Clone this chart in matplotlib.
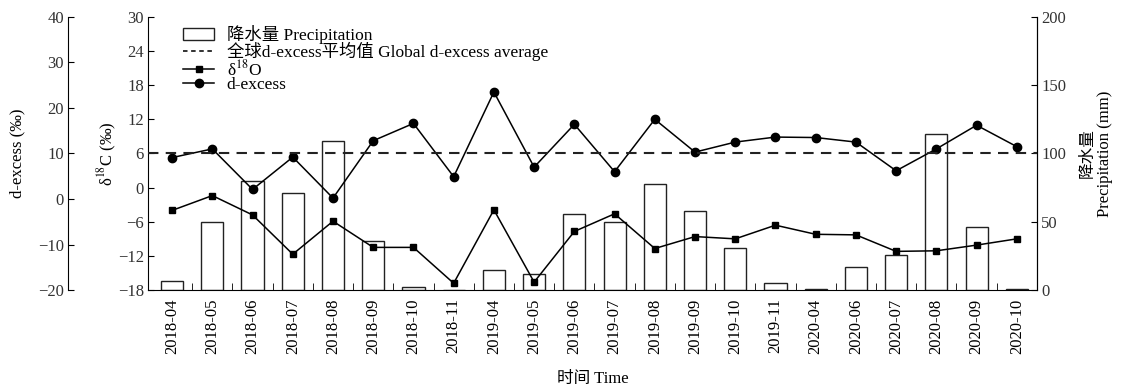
import matplotlib
matplotlib.use("Agg")
import matplotlib.pyplot as plt
import numpy as np
from matplotlib.patches import Rectangle
from matplotlib.lines import Line2D

plt.rcParams['font.family'] = ['Liberation Serif', 'Noto Sans CJK SC', 'DejaVu Sans']
plt.rcParams['mathtext.fontset'] = 'stix'

# 数据
months = ['2018-04', '2018-05', '2018-06', '2018-07', '2018-08', '2018-09', '2018-10', '2018-11',
          '2019-04', '2019-05', '2019-06', '2019-07', '2019-08', '2019-09', '2019-10', '2019-11',
          '2020-04', '2020-06', '2020-07', '2020-08', '2020-09', '2020-10']
precip = [7, 50, 80, 71, 109, 36, 2, 0, 15, 12, 56, 50, 78, 58, 31, 5, 1, 17, 26, 114, 46, 1]
d18o = [-4.0, -1.4, -4.8, -11.7, -5.9, -10.5, -10.5, -16.8, -3.9, -16.6, -7.7, -4.6,
        -10.7, -8.6, -9.0, -6.6, -8.2, -8.3, -11.2, -11.1, -10.1, -9.0]
dexcess = [9.1, 11.0, 2.1, 9.2, 0.2, 12.8, 16.6, 4.9, 23.5, 7.0, 16.4, 6.0,
           17.5, 10.3, 12.5, 13.6, 13.5, 12.5, 6.2, 11.0, 16.2, 11.5]
global_d = 10

x = np.arange(len(months))
fs = 12

fig = plt.figure(figsize=(11.21, 3.92), dpi=100)
ax = fig.add_axes([0.132, 0.260, 0.793, 0.697])
axp = ax.twinx()
axd = ax.twinx()

ax.set_zorder(2)
axd.set_zorder(3)
axp.set_zorder(1)
ax.patch.set_visible(False)
axd.patch.set_visible(False)

# 降水量柱状图
axp.bar(x, precip, width=0.55, facecolor='white', edgecolor='#222222', linewidth=1.0)
axp.set_ylim(0, 200)
axp.set_yticks([0, 50, 100, 150, 200])
axp.set_ylabel('降水量\nPrecipitation (mm)', fontsize=fs, labelpad=10, linespacing=1.1)

# δ18O
ax.plot(x, d18o, '-s', color='black', linewidth=1.1, markersize=5)
ax.set_ylim(-18, 30)
ax.set_yticks(np.arange(-18, 31, 6))
ax.set_ylabel('δ$^{18}$C (‰)', fontsize=fs, labelpad=-1)

# d-excess
axd.plot(x, dexcess, '-o', color='black', linewidth=1.1, markersize=6)
axd.axhline(global_d, color='#222222', linestyle=(0, (5, 3.5)), linewidth=1.5)
axd.set_ylim(-20, 40)
axd.set_yticks(np.arange(-20, 41, 10))
axd.yaxis.set_ticks_position('left')
axd.yaxis.set_label_position('left')
axd.spines['left'].set_position(('outward', 57.6))
axd.spines['left'].set_visible(True)
axd.spines['right'].set_visible(False)
axd.set_ylabel('d-excess (‰)', fontsize=fs, labelpad=9)

for a in (ax, axp, axd):
    a.spines['top'].set_visible(False)
    a.tick_params(axis='y', direction='in', labelsize=fs, length=4, pad=3)
    for lab in a.get_yticklabels():
        lab.set_color('#333333')
axp.spines['left'].set_visible(False)
axd.spines['bottom'].set_visible(False)
axp.spines['bottom'].set_visible(False)

ax.set_xlim(-0.6, 21.5)
ax.set_xticks(x)
ax.set_xticklabels(months, rotation=90, fontsize=fs)
ax.tick_params(axis='x', which='major', length=0, pad=6)
ax.set_xticks(x[:-1] + 0.5, minor=True)
ax.tick_params(axis='x', which='minor', direction='in', length=5)
ax.set_xlabel('时间 Time', fontsize=fs, labelpad=12)

handles = [Rectangle((0, 0), 1, 1, facecolor='white', edgecolor='#222222', linewidth=1.0),
           Line2D([], [], color='#222222', linestyle=(0, (2.5, 2)), linewidth=1.3),
           Line2D([], [], color='black', marker='s', markersize=5, linewidth=1.1),
           Line2D([], [], color='black', marker='o', markersize=6, linewidth=1.1)]
labels = ['降水量 Precipitation', '全球d-excess平均值 Global d-excess average',
          'δ$^{18}$O', 'd-excess']
axd.legend(handles, labels, loc='upper left', bbox_to_anchor=(0.026, 1.015), frameon=False,
           fontsize=fs, labelspacing=-0.12, handlelength=1.8, handletextpad=0.7,
           borderaxespad=0.3, prop={'size': 12.5})

fig.savefig('out.png', dpi=100)
